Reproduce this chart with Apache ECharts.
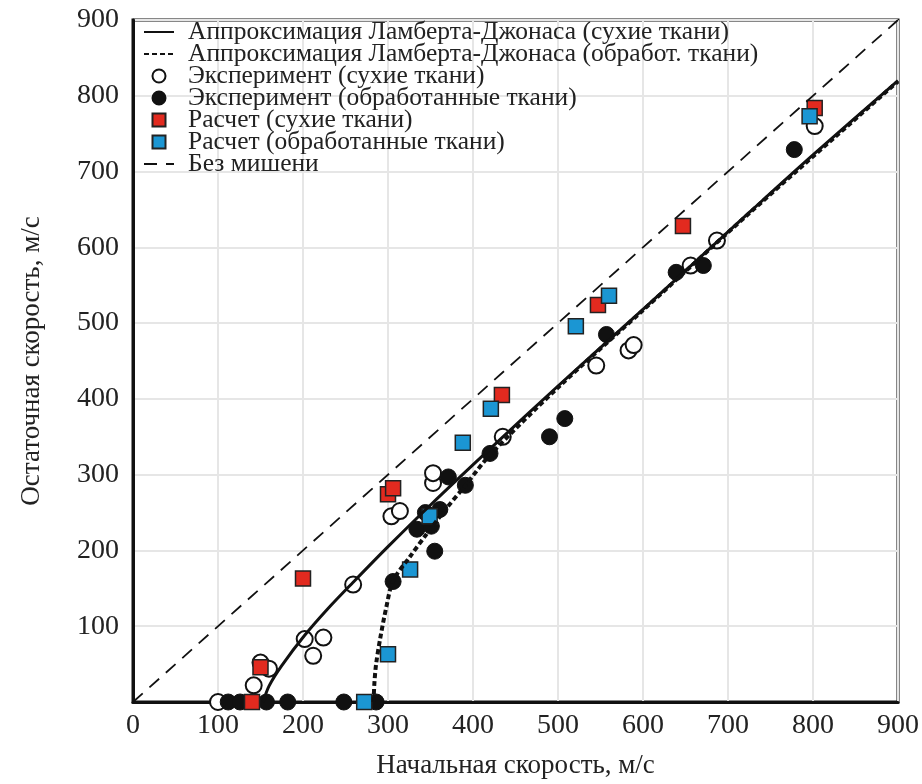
<!DOCTYPE html>
<html>
<head>
<meta charset="utf-8">
<script src="https://cdn.jsdelivr.net/npm/echarts@6/dist/echarts.min.js"></script>
<style>
html,body{margin:0;padding:0;background:#fff;}
#chart{width:922px;height:784px;}
</style>
</head>
<body>
<div id="chart"></div>
<script>
// аппроксимация Ламберта-Джонаса, точки [v0, vr]
var fitDry = [[153,0],[160,21],[175,48],[202,88],[230,124],[259,158],[300,205],[350,260],
	[420,334],[500,417],[600,518],[726,647],[800,722],[900,820]];
var fitWet = [[283,0],[284,25],[286,50],[291,85],[298,125],[306,160],[326,192],[345,221],
	[369,256],[389,283],[420,326],[500,415],[600,517],[726,646],[900,819]];
var noTarget = [[0,0],[900,900]];

// эксперимент
var expDry = [[100,0],[142,22],[150,52],[160,44],[202,83],[212,61],[224,85],[259,155],
	[304,245],[314,252],[353,289],[353,302],[435,350],[545,444],[583,464],[589,471],
	[656,576],[687,609],[802,760]];
var expWet = [[112,0],[126,0],[157,0],[182,0],[248,0],[286,0],[306,159],[334,228],
	[344,250],[351,232],[361,254],[355,199],[371,297],[391,286],[420,328],[490,350],
	[508,374],[557,485],[639,567],[671,576],[778,729]];

// расчет
var calcDry = [[140,0],[150,46],[200,163],[300,274],[306,282],[434,405],[547,524],[647,628],[802,784]];
var calcWet = [[272,0],[300,63],[326,175],[349,245],[388,342],[421,387],[521,496],[560,536],[796,773]];

var names = [
	'Аппроксимация Ламберта-Джонаса (сухие ткани)',
	'Аппроксимация Ламберта-Джонаса (обработ. ткани)',
	'Эксперимент (сухие ткани)',
	'Эксперимент (обработанные ткани)',
	'Расчет (сухие ткани)',
	'Расчет (обработанные ткани)',
	'Без мишени'
];

var font = 'Liberation Serif';
var square = 'path://M0,0L10,0L10,10L0,10Z';
var chart = echarts.init(document.getElementById('chart'));

var option = {
	animation: false,
	backgroundColor: '#fff',
	grid: {
		left: 133, right: 24, top: 20, bottom: 79,
		show: true, borderColor: '#111', borderWidth: 3
	},
	legend: {
		orient: 'vertical',
		left: 139, top: 15,
		padding: 4,
		itemWidth: 30, itemHeight: 13,
		itemGap: -4,
		data: [
			{name: names[0], itemStyle: {opacity: 0}},
			{name: names[1], itemStyle: {opacity: 0}},
			{name: names[2], icon: 'circle'},
			{name: names[3], icon: 'circle'},
			{name: names[4], icon: square},
			{name: names[5], icon: square},
			{name: names[6], itemStyle: {opacity: 0}}
		],
		textStyle: {fontFamily: font, fontSize: 25.5, color: '#222', padding: [0, 0, 0, 9]}
	},
	xAxis: {
		type: 'value', min: 0, max: 900, interval: 100,
		name: 'Начальная скорость, м/с',
		nameLocation: 'middle', nameGap: 50,
		nameTextStyle: {fontFamily: font, fontSize: 27, color: '#222'},
		axisLine: {lineStyle: {color: '#111', width: 3}},
		axisTick: {show: false},
		axisLabel: {fontFamily: font, fontSize: 28, color: '#222', margin: 10},
		splitLine: {lineStyle: {color: '#e6e6e6', width: 2}}
	},
	yAxis: {
		type: 'value', min: 0, max: 900, interval: 100,
		name: 'Остаточная скорость, м/с',
		nameLocation: 'middle', nameGap: 88,
		nameTextStyle: {fontFamily: font, fontSize: 27, color: '#222'},
		axisLine: {lineStyle: {color: '#111', width: 3}},
		axisTick: {show: false},
		axisLabel: {fontFamily: font, fontSize: 28, color: '#222', margin: 14, showMinLabel: false},
		splitLine: {lineStyle: {color: '#e6e6e6', width: 2}}
	},
	series: [
		{
			name: names[6], type: 'line', data: noTarget, symbol: 'none',
			itemStyle: {color: '#111'},
			lineStyle: {color: '#111', width: 1.8, type: [13, 9]}
		},
		{
			name: names[0], type: 'line', data: fitDry, symbol: 'none', smooth: 0.3,
			itemStyle: {color: '#111'},
			lineStyle: {color: '#111', width: 3}
		},
		{
			name: names[1], type: 'line', data: fitWet, symbol: 'none', smooth: 0.3,
			itemStyle: {color: '#111'},
			lineStyle: {color: '#111', width: 4, type: [5, 3]}
		},
		{
			name: names[2], type: 'scatter', data: expDry, symbol: 'circle', symbolSize: 16,
			itemStyle: {color: '#fff', borderColor: '#111', borderWidth: 2, opacity: 1}
		},
		{
			name: names[3], type: 'scatter', data: expWet, symbol: 'circle', symbolSize: 16,
			itemStyle: {color: '#111', borderColor: '#111', borderWidth: 1, opacity: 1}
		},
		{
			name: names[4], type: 'scatter', data: calcDry, symbol: 'rect', symbolSize: 15,
			itemStyle: {color: '#e22a1f', borderColor: '#222', borderWidth: 1.5, opacity: 1}
		},
		{
			name: names[5], type: 'scatter', data: calcWet, symbol: 'rect', symbolSize: 15,
			itemStyle: {color: '#1b96d3', borderColor: '#222', borderWidth: 1.5, opacity: 1}
		}
	]
};

chart.setOption(option);
</script>
</body>
</html>
